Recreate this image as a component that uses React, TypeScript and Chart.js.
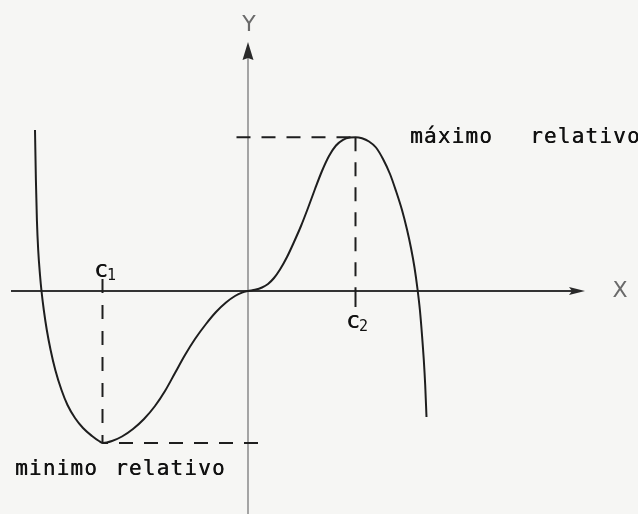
import React, { useEffect, useRef } from "react";
import { Chart, registerables } from "chart.js";

Chart.register(...registerables);

// Curve (x, y in drawing units; origin at axes crossing)
const curveX = [
  -21.3, -21.21, -21.11, -20.98, -20.8, -20.65, -20.42, -20.12, -19.74, -19.27, -18.65, -18.05, -17.3, -16.5, -15.6, -14.9, -14.5,
  -13.6, -12.6, -11.5, -10.4, -9.3, -8.3, -7.3, -6.3, -5.3, -4.2, -3.2, -2.2, -1.3, -0.6, 0,
  0.7, 1.4, 2.0, 2.6, 3.2, 3.9, 4.6, 5.3, 6.0, 6.7, 7.4, 8.1, 8.8, 9.5, 10.2, 10.75,
  11.4, 12.1, 12.8, 13.5, 14.2, 14.8, 15.4, 15.9, 16.3, 16.65, 16.95, 17.2, 17.4, 17.58, 17.72, 17.85,
];
const curveY = [
  16.1, 11.1, 7.1, 4.1, 1.6, 0, -1.9, -3.9, -5.9, -7.9, -9.9, -11.4, -12.7, -13.7, -14.5, -15.0, -15.2,
  -15.0, -14.55, -13.8, -12.8, -11.5, -10.0, -8.2, -6.4, -4.8, -3.3, -2.1, -1.15, -0.5, -0.16, 0,
  0.12, 0.35, 0.7, 1.3, 2.15, 3.4, 4.9, 6.5, 8.3, 10.2, 12.0, 13.5, 14.55, 15.12, 15.35, 15.38,
  15.27, 14.95, 14.35, 13.2, 11.7, 10.0, 8.1, 6.15, 4.3, 2.35, 0.2, -2.0, -4.4, -6.9, -9.4, -12.6,
];

// Critical points
const c1X = -14.55;
const minY = -15.2;
const c2X = 10.75;
const maxY = 15.38;

// Axis extents
const xAxisFrom = -23.7;
const xAxisTip = 33.7;
const yAxisFrom = -22.3;
const yAxisTip = 24.9;

// View window
const xMin = -24.8;
const xMax = 39.0;
const yMin = -22.3;
const yMax = 29.1;

// Text labels
const labelTexts = ["Y", "X", "máximo", "relativo", "minimo", "relativo"];
const labelX = [0.1, 37.2, 16.2, 28.2, -23.3, -13.3];
const labelY = [26.6, 0, 14.8, 14.8, -18.4, -18.4];
const critNames = ["c", "c"];
const critSubs = ["1", "2"];
const critLabelX = [-15.4, 9.8];
const critLabelY = [1.45, -3.7];

const INK = "#1e1e1e";

const annotPlugin = {
  id: "annot",
  beforeDraw(chart: any) {
    const { ctx, width, height } = chart;
    ctx.save();
    ctx.fillStyle = "#f6f6f4";
    ctx.fillRect(0, 0, width, height);
    ctx.restore();
  },
  afterDatasetsDraw(chart: any) {
    const ctx = chart.ctx;
    const xs = chart.scales.x;
    const ys = chart.scales.y;
    const px = (v: number) => xs.getPixelForValue(v);
    const py = (v: number) => ys.getPixelForValue(v);
    ctx.save();
    // x-axis arrow head
    ctx.fillStyle = "#2a2a2a";
    const tx = px(xAxisTip);
    const ty = py(0);
    ctx.beginPath();
    ctx.moveTo(tx, ty);
    ctx.lineTo(tx - 16, ty - 4);
    ctx.lineTo(tx - 13, ty);
    ctx.lineTo(tx - 16, ty + 4);
    ctx.closePath();
    ctx.fill();
    // y-axis arrow head
    const ux = px(0);
    const uy = py(yAxisTip);
    ctx.beginPath();
    ctx.moveTo(ux, uy);
    ctx.lineTo(ux + 5.5, uy + 18);
    ctx.lineTo(ux, uy + 16);
    ctx.lineTo(ux - 5.5, uy + 18);
    ctx.closePath();
    ctx.fill();

    // axis names
    ctx.fillStyle = "#6a6a6a";
    ctx.font = '22px "DejaVu Sans"';
    ctx.textAlign = "center";
    ctx.textBaseline = "middle";
    for (let i = 0; i < 2; i++) {
      ctx.fillText(labelTexts[i], px(labelX[i]), py(labelY[i]));
    }
    // words
    ctx.fillStyle = "#111";
    ctx.font = '21px "DejaVu Sans Mono"';
    ctx.textAlign = "left";
    ctx.textBaseline = "alphabetic";
    (ctx as any).letterSpacing = "1.2px";
    for (let i = 2; i < labelTexts.length; i++) {
      ctx.fillText(labelTexts[i], px(labelX[i]), py(labelY[i]));
      ctx.fillText(labelTexts[i], px(labelX[i]) + 0.4, py(labelY[i]));
    }
    (ctx as any).letterSpacing = "0px";
    // c1, c2
    for (let i = 0; i < critNames.length; i++) {
      const lx = px(critLabelX[i]);
      const ly = py(critLabelY[i]);
      ctx.font = '23px "DejaVu Sans Mono"';
      ctx.fillText(critNames[i], lx, ly);
      ctx.fillText(critNames[i], lx + 0.4, ly);
      ctx.font = '15px "DejaVu Sans Mono"';
      ctx.fillText(critSubs[i], lx + 13, ly + 3);
    }
    ctx.restore();
  },
};

export default function App() {
  const ref = useRef<HTMLCanvasElement | null>(null);
  useEffect(() => {
    if (!ref.current) return;
    const curve = curveX.map((x, i) => ({ x, y: curveY[i] }));
    const dash = [14, 11];
    const chart = new Chart(ref.current, {
      type: "scatter",
      data: {
        datasets: [
          {
            label: "f",
            data: curve,
            showLine: true,
            borderColor: INK,
            borderWidth: 2,
            pointRadius: 0,
            cubicInterpolationMode: "monotone",
            order: 0,
          } as any,
          {
            label: "x-axis",
            data: [{ x: xAxisFrom, y: 0 }, { x: xAxisTip - 1.0, y: 0 }],
            showLine: true,
            borderColor: "#333",
            borderWidth: 2,
            pointRadius: 0,
            order: 2,
          },
          {
            label: "y-axis",
            data: [{ x: 0, y: yAxisFrom }, { x: 0, y: yAxisTip - 1.6 }],
            showLine: true,
            borderColor: "#6e6e6e",
            borderWidth: 1.2,
            pointRadius: 0,
            order: 3,
          },
          {
            label: "max-h",
            data: [{ x: -1.15, y: maxY }, { x: c2X, y: maxY }],
            showLine: true,
            borderColor: INK,
            borderWidth: 2,
            borderDash: dash,
            pointRadius: 0,
            order: 1,
          },
          {
            label: "c2-v",
            data: [{ x: c2X, y: maxY }, { x: c2X, y: 0 }],
            showLine: true,
            borderColor: INK,
            borderWidth: 2,
            borderDash: dash,
            pointRadius: 0,
            order: 1,
          },
          {
            label: "c2-tick",
            data: [{ x: c2X, y: 0 }, { x: c2X, y: -1.6 }],
            showLine: true,
            borderColor: INK,
            borderWidth: 2,
            pointRadius: 0,
            order: 1,
          },
          {
            label: "c1-v",
            data: [{ x: c1X, y: 1.2 }, { x: c1X, y: minY }],
            showLine: true,
            borderColor: INK,
            borderWidth: 2,
            borderDash: [14, 12],
            pointRadius: 0,
            order: 1,
          },
          {
            label: "min-h",
            data: [{ x: 1.0, y: minY }, { x: c1X, y: minY }],
            showLine: true,
            borderColor: INK,
            borderWidth: 2,
            borderDash: [14, 11],
            pointRadius: 0,
            order: 1,
          },
        ],
      },
      options: {
        animation: false,
        responsive: false,
        devicePixelRatio: 1,
        layout: { padding: 0 },
        plugins: {
          legend: { display: false },
          tooltip: { enabled: false },
          title: { display: false },
        },
        scales: {
          x: { type: "linear", min: xMin, max: xMax, display: false },
          y: { type: "linear", min: yMin, max: yMax, display: false },
        },
        events: [],
      },
      plugins: [annotPlugin],
    });
    return () => chart.destroy();
  }, []);
  return (
    <div style={{ position: "fixed", left: 0, top: 0, width: 638, height: 514 }}>
      <canvas ref={ref} width={638} height={514} style={{ display: "block" }} />
    </div>
  );
}
